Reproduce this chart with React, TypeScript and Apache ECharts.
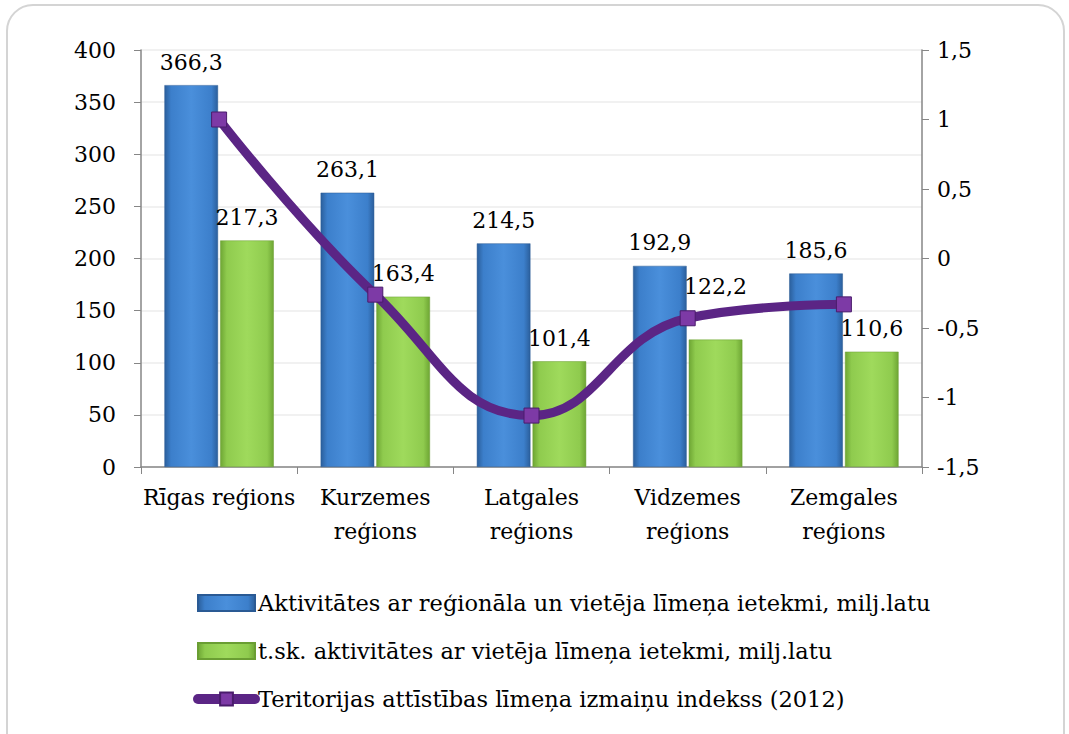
import React, { useEffect, useRef } from "react";
import * as echarts from "echarts";

const categories = ["Rīgas reģions", "Kurzemes\nreģions", "Latgales\nreģions", "Vidzemes\nreģions", "Zemgales\nreģions"];
const regionalValues = [366.3, 263.1, 214.5, 192.9, 185.6];
const localValues = [217.3, 163.4, 101.4, 122.2, 110.6];
const indexValues = [1.0, -0.26, -1.13, -0.43, -0.33];
const seriesNames = [
  "Aktivitātes ar reģionāla un vietēja līmeņa ietekmi, milj.latu",
  "t.sk. aktivitātes ar vietēja līmeņa ietekmi, milj.latu",
  "Teritorijas attīstības līmeņa izmaiņu indekss (2012)",
];

const FONT = "DejaVu Serif";
const comma = (v: number) => String(v).replace(".", ",");

export default function App() {
  const ref = useRef<HTMLDivElement>(null);
  useEffect(() => {
    document.body.style.margin = "0";
    const chart = echarts.init(ref.current!, undefined, { renderer: "svg" });
    const blue = new echarts.graphic.LinearGradient(0, 0, 1, 0, [
      { offset: 0, color: "#2b5f9c" },
      { offset: 0.12, color: "#3c7fcb" },
      { offset: 0.5, color: "#4a8fdb" },
      { offset: 0.88, color: "#3c7fcb" },
      { offset: 1, color: "#2b5f9c" },
    ]);
    const green = new echarts.graphic.LinearGradient(0, 0, 1, 0, [
      { offset: 0, color: "#6ea634" },
      { offset: 0.12, color: "#8fcb4e" },
      { offset: 0.5, color: "#9fda5c" },
      { offset: 0.88, color: "#8fcb4e" },
      { offset: 1, color: "#6ea634" },
    ]);
    const labelStyle = {
      show: true,
      position: "top" as const,
      distance: 12,
      fontFamily: FONT,
      fontSize: 22,
      color: "#000",
      formatter: (p: any) => comma(p.value),
    };
    // the label of the Vidzemes green bar sits above the line, as in the reference
    const localData = localValues.map((v, i) =>
      i === 3 ? { value: v, label: { offset: [0, -30] } } : v
    );
    chart.setOption({
      animation: false,
      textStyle: { fontFamily: FONT },
      graphic: [
        {
          type: "rect",
          shape: { x: 7, y: 5, width: 1057, height: 760, r: 26 },
          style: { fill: "none", stroke: "#d4d4d4", lineWidth: 2 },
          silent: true,
        },
      ],
      grid: { left: 141, right: 147, top: 50, bottom: 267 },
      legend: {
        orient: "vertical",
        left: 193,
        top: 590,
        padding: 0,
        itemWidth: 57,
        itemHeight: 16,
        itemGap: 22,
        textStyle: { fontFamily: FONT, fontSize: 22.5, color: "#000", lineHeight: 26, padding: [0, 0, 0, -2] },
        data: [
          { name: seriesNames[0], icon: "rect" },
          { name: seriesNames[1], icon: "rect" },
          { name: seriesNames[2], lineStyle: { width: 10, color: "#5b2585", cap: "round" } },
        ],
      },
      xAxis: {
        type: "category",
        data: categories,
        axisLine: { lineStyle: { color: "#868686", width: 1.5 } },
        axisTick: { show: true, length: 7, lineStyle: { color: "#868686" } },
        axisLabel: { fontFamily: FONT, fontSize: 22, color: "#000", margin: 13, lineHeight: 34, interval: 0 },
      },
      yAxis: [
        {
          type: "value",
          min: 0,
          max: 400,
          interval: 50,
          axisLine: { show: true, lineStyle: { color: "#868686", width: 1.5 } },
          axisTick: { show: true, length: 7, lineStyle: { color: "#868686" } },
          axisLabel: { fontFamily: FONT, fontSize: 22, color: "#000", margin: 25 },
          splitLine: { lineStyle: { color: "#ececec", width: 1.5 } },
        },
        {
          type: "value",
          min: -1.5,
          max: 1.5,
          interval: 0.5,
          axisLine: { show: true, lineStyle: { color: "#868686", width: 1.5 } },
          axisTick: { show: true, length: 7, lineStyle: { color: "#868686" } },
          axisLabel: { fontFamily: FONT, fontSize: 22, color: "#000", margin: 15, formatter: comma },
          splitLine: { show: false },
        },
      ],
      series: [
        {
          name: seriesNames[0],
          type: "bar",
          data: regionalValues,
          barCategoryGap: "30%",
          barGap: "4%",
          itemStyle: { color: blue, borderColor: "#2a5a94", borderWidth: 0.5 },
          label: labelStyle,
        },
        {
          name: seriesNames[1],
          type: "bar",
          data: localData,
          itemStyle: { color: green, borderColor: "#6a9e33", borderWidth: 0.5 },
          label: labelStyle,
        },
        {
          name: seriesNames[2],
          type: "line",
          yAxisIndex: 1,
          data: indexValues,
          smooth: 0.45,
          symbol: "rect",
          symbolSize: 15,
          lineStyle: { color: "#5b2585", width: 9, cap: "round" },
          itemStyle: { color: "#7d3aa6", borderColor: "#4a1c6c", borderWidth: 1 },
          z: 5,
        },
      ],
    });
    return () => chart.dispose();
  }, []);
  return <div ref={ref} style={{ width: 1069, height: 734 }} />;
}
